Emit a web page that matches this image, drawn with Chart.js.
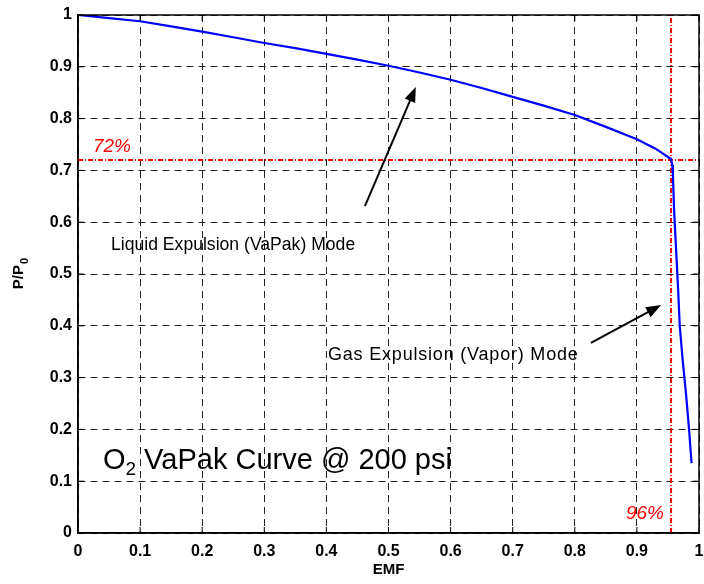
<!DOCTYPE html>
<html>
<head>
<meta charset="utf-8">
<script src="https://cdn.jsdelivr.net/npm/chart.js@4.4.1/dist/chart.umd.min.js"></script>
<style>
  body { margin: 0; background: #fff; }
  #wrap { width: 704px; height: 584px; }
</style>
</head>
<body>
<div id="wrap"><canvas id="vapak"></canvas></div>
<script>
// EMF vs P/P0 curve
const emf = [0, 0.05, 0.1, 0.15, 0.2, 0.25, 0.3, 0.35, 0.4, 0.45, 0.5, 0.55, 0.6, 0.65, 0.7, 0.75, 0.8, 0.85, 0.9, 0.93, 0.955,
             0.957, 0.958, 0.96, 0.963, 0.966, 0.969, 0.974, 0.979, 0.984, 0.988];
const pressure = [1, 0.994, 0.988, 0.978, 0.968, 0.957, 0.946, 0.936, 0.925, 0.914, 0.902, 0.889, 0.875, 0.859, 0.842, 0.825, 0.807, 0.784, 0.76, 0.742, 0.722,
                  0.71, 0.69, 0.62, 0.55, 0.48, 0.4, 0.33, 0.27, 0.2, 0.135];

// reference markers
const liquidLimit = 0.72;   // 72%
const gasLimit = 0.955;     // 96%

const xTicks = [0, 0.1, 0.2, 0.3, 0.4, 0.5, 0.6, 0.7, 0.8, 0.9, 1];
const yTicks = [0, 0.1, 0.2, 0.3, 0.4, 0.5, 0.6, 0.7, 0.8, 0.9, 1];

const FONT = '"Liberation Sans", Arial, sans-serif';

// text + arrows on top of the plot
const notes = {
  id: 'notes',
  afterDraw(chart) {
    const ctx = chart.ctx;
    const a = chart.chartArea;
    const xs = chart.scales.x, ys = chart.scales.y;
    const px = v => xs.getPixelForValue(v);
    const py = v => ys.getPixelForValue(v);

    // frame
    ctx.save();
    ctx.strokeStyle = '#000';
    ctx.lineWidth = 1.5;
    ctx.strokeRect(a.left, a.top, a.right - a.left, a.bottom - a.top);

    // small inner ticks like matlab
    ctx.lineWidth = 1;
    xTicks.forEach(t => {
      const x = px(t);
      ctx.beginPath();
      ctx.moveTo(x, a.bottom); ctx.lineTo(x, a.bottom - 6);
      ctx.moveTo(x, a.top); ctx.lineTo(x, a.top + 6);
      ctx.stroke();
    });
    yTicks.forEach(t => {
      const y = py(t);
      ctx.beginPath();
      ctx.moveTo(a.left, y); ctx.lineTo(a.left + 6, y);
      ctx.moveTo(a.right, y); ctx.lineTo(a.right - 6, y);
      ctx.stroke();
    });

    // red labels
    ctx.fillStyle = '#ff0000';
    ctx.font = 'italic 19px ' + FONT;
    ctx.textAlign = 'center';
    ctx.textBaseline = 'middle';
    ctx.fillText('72%', 112, 147);
    ctx.fillText('96%', 645, 514);

    // mode labels
    ctx.fillStyle = '#000';
    ctx.font = '17.6px ' + FONT;
    ctx.textAlign = 'left';
    ctx.fillText('Liquid Expulsion (VaPak) Mode', 111, 245);
    ctx.font = '18px ' + FONT;
    ctx.letterSpacing = '0.8px';
    ctx.fillText('Gas Expulsion (Vapor) Mode', 328, 355);
    ctx.letterSpacing = '0px';

    // big title with subscript
    ctx.font = '29px ' + FONT;
    ctx.textBaseline = 'alphabetic';
    let x0 = 103, base = 469;
    ctx.fillText('O', x0, base);
    x0 += ctx.measureText('O').width;
    ctx.font = '19px ' + FONT;
    ctx.fillText('2', x0, base + 6);
    x0 += ctx.measureText('2').width + 8;
    ctx.font = '29px ' + FONT;
    ctx.fillText('VaPak Curve @ 200 psi', x0, base);

    // arrows
    const arrow = (x1, y1, x2, y2) => {
      const X1 = px(x1), Y1 = py(y1), X2 = px(x2), Y2 = py(y2);
      const ang = Math.atan2(Y2 - Y1, X2 - X1);
      const len = 16, w = 0.36;
      ctx.strokeStyle = '#000';
      ctx.lineWidth = 2;
      ctx.beginPath();
      ctx.moveTo(X1, Y1);
      ctx.lineTo(X2 - Math.cos(ang) * len * 0.8, Y2 - Math.sin(ang) * len * 0.8);
      ctx.stroke();
      ctx.fillStyle = '#000';
      ctx.beginPath();
      ctx.moveTo(X2, Y2);
      ctx.lineTo(X2 - len * Math.cos(ang - w), Y2 - len * Math.sin(ang - w));
      ctx.lineTo(X2 - len * Math.cos(ang + w), Y2 - len * Math.sin(ang + w));
      ctx.closePath();
      ctx.fill();
    };
    arrow(0.462, 0.631, 0.544, 0.861);
    arrow(0.826, 0.367, 0.939, 0.44);

    // axis titles
    ctx.fillStyle = '#000';
    ctx.font = 'bold 15px ' + FONT;
    ctx.textAlign = 'center';
    ctx.textBaseline = 'middle';
    ctx.fillText('EMF', (a.left + a.right) / 2, 570);

    ctx.translate(19, (a.top + a.bottom) / 2);
    ctx.rotate(-Math.PI / 2);
    ctx.textAlign = 'left';
    const w1 = ctx.measureText('P/P').width;
    ctx.font = 'bold 11px ' + FONT;
    const w2 = ctx.measureText('0').width;
    const start = -(w1 + w2) / 2;
    ctx.font = 'bold 15px ' + FONT;
    ctx.fillText('P/P', start, 0);
    ctx.font = 'bold 11px ' + FONT;
    ctx.fillText('0', start + w1 + 1, 6);
    ctx.restore();
  }
};

const gridOpts = {
  color: '#222',
  lineWidth: 1,
  drawTicks: false
};

new Chart(document.getElementById('vapak'), {
  type: 'scatter',
  data: {
    datasets: [
      {
        label: 'VaPak curve',
        data: emf.map((v, i) => ({ x: v, y: pressure[i] })),
        showLine: true,
        borderColor: '#0000ff',
        borderWidth: 2.2,
        pointRadius: 0,
        fill: false,
        tension: 0
      },
      {
        label: '72%',
        data: [{ x: 0, y: liquidLimit }, { x: 1, y: liquidLimit }],
        showLine: true,
        borderColor: '#ff0000',
        borderWidth: 2,
        borderDash: [5, 2, 1, 2],
        pointRadius: 0
      },
      {
        label: '96%',
        data: [{ x: gasLimit, y: 0 }, { x: gasLimit, y: 1 }],
        showLine: true,
        borderColor: '#ff0000',
        borderWidth: 2,
        borderDash: [5, 2, 1, 2],
        pointRadius: 0
      }
    ]
  },
  options: {
    responsive: true,
    maintainAspectRatio: false,
    animation: false,
    layout: { padding: { top: 15, right: 5, left: 0, bottom: 0 } },
    plugins: {
      legend: { display: false },
      tooltip: { enabled: false }
    },
    scales: {
      x: {
        type: 'linear',
        min: 0,
        max: 1,
        afterBuildTicks: s => { s.ticks = xTicks.map(v => ({ value: v })); },
        afterFit: s => { s.height = 51; s.paddingLeft = 0; s.paddingRight = 0; },
        ticks: {
          color: '#000',
          padding: 9,
          maxRotation: 0,
          font: { family: FONT, size: 16, weight: 'bold' },
          callback: v => String(+v.toFixed(1))
        },
        grid: gridOpts,
        border: { display: true, color: '#000', width: 1.5, dash: [7, 5] }
      },
      y: {
        type: 'linear',
        min: 0,
        max: 1,
        afterBuildTicks: s => { s.ticks = yTicks.map(v => ({ value: v })); },
        afterFit: s => { s.width = 78; s.paddingTop = 0; s.paddingBottom = 0; },
        ticks: {
          color: '#000',
          padding: 6,
          font: { family: FONT, size: 16, weight: 'bold' },
          callback: v => String(+v.toFixed(1))
        },
        grid: gridOpts,
        border: { display: true, color: '#000', width: 1.5, dash: [7, 5] }
      }
    }
  },
  plugins: [notes]
});
</script>
</body>
</html>
